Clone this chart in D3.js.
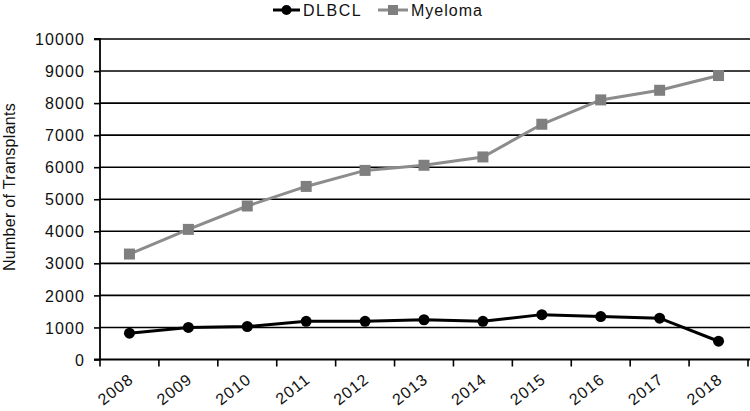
<!DOCTYPE html>
<html><head><meta charset="utf-8">
<script src="https://cdn.jsdelivr.net/npm/d3@7"></script>
<style>
html,body{margin:0;padding:0;background:#fff;}
svg{display:block;font-family:"Liberation Sans",Arial,sans-serif;}
</style></head>
<body>
<svg id="c" width="750" height="411"></svg>
<script>
const years = ["2008","2009","2010","2011","2012","2013","2014","2015","2016","2017","2018"];
const dlbcl = [820, 1000, 1030, 1190, 1190, 1240, 1190, 1400, 1340, 1290, 570];
const myeloma = [3290, 4060, 4790, 5400, 5900, 6060, 6320, 7340, 8100, 8400, 8860];
const yTicks = [0,1000,2000,3000,4000,5000,6000,7000,8000,9000,10000];
const seriesNames = ["DLBCL","Myeloma"];

const svg = d3.select("#c");
const L = 100, R = 748, T = 39, B = 359.5;
const x = d3.scaleBand().domain(years).range([L, R]).padding(0);
const y = d3.scaleLinear().domain([0, 10000]).range([B, T]);

// gridlines
svg.append("g").selectAll("line").data(yTicks.filter(d=>d>0)).join("line")
  .attr("x1", L).attr("x2", 750).attr("y1", d=>y(d)).attr("y2", d=>y(d))
  .attr("stroke", "#000").attr("stroke-width", 1.6);

// y axis
const ya = svg.append("g").attr("transform", `translate(${L},0)`)
  .call(d3.axisLeft(y).tickValues(yTicks).tickSize(6).tickPadding(9).tickFormat(d3.format("d")));
ya.select(".domain").attr("stroke","#000").attr("stroke-width",1.8).attr("d", `M-6,${T}H0V${B}`);
ya.selectAll(".tick line").attr("stroke","#000").attr("stroke-width",1.6);
ya.selectAll(".tick text").attr("font-size", 16).attr("fill","#111").attr("letter-spacing", 1.1).attr("dy","0.35em");

// x axis
const xa = svg.append("g").attr("transform", `translate(0,${B})`)
  .call(d3.axisBottom(x).tickSize(0).tickPadding(0));
xa.select(".domain").remove();
svg.append("g").selectAll("line").data(years.concat(["end"])).join("line")
  .attr("x1", (d,i)=> L + i*x.bandwidth()).attr("x2", (d,i)=> L + i*x.bandwidth())
  .attr("y1", B).attr("y2", B+7).attr("stroke","#000").attr("stroke-width",1.6);
svg.append("line").attr("x1", L-6).attr("x2", 750).attr("y1", B).attr("y2", B)
  .attr("stroke","#000").attr("stroke-width",1.8);
xa.selectAll(".tick text").attr("font-size", 16).attr("fill","#111").attr("letter-spacing", 1)
  .attr("text-anchor","end").attr("dy", 0)
  .attr("transform", "translate(5,22) rotate(-38)");

// y title
svg.append("text").attr("transform", "translate(15,187) rotate(-90)")
  .attr("text-anchor","middle").attr("font-size", 16).attr("letter-spacing", 0.3)
  .attr("fill","#111").text("Number of Transplants");

const cx = d => x(d) + x.bandwidth()/2;
const line = d3.line().x((d,i)=>cx(years[i])).y(d=>y(d));

// Myeloma
svg.append("path").datum(myeloma).attr("d", line).attr("fill","none")
  .attr("stroke","#8c8c8c").attr("stroke-width",3);
svg.append("g").selectAll("rect").data(myeloma).join("rect")
  .attr("x",(d,i)=>cx(years[i])-5.5).attr("y",d=>y(d)-5.5).attr("width",11).attr("height",11)
  .attr("fill","#7f7f7f");

// DLBCL
svg.append("path").datum(dlbcl).attr("d", line).attr("fill","none")
  .attr("stroke","#000").attr("stroke-width",3);
svg.append("g").selectAll("circle").data(dlbcl).join("circle")
  .attr("cx",(d,i)=>cx(years[i])).attr("cy",d=>y(d)).attr("r",5.5).attr("fill","#000");

// legend
const lg = svg.append("g");
lg.append("line").attr("x1",273).attr("x2",300).attr("y1",10).attr("y2",10).attr("stroke","#000").attr("stroke-width",3);
lg.append("circle").attr("cx",286.5).attr("cy",10).attr("r",5).attr("fill","#000");
lg.append("text").attr("x",303).attr("y",16).attr("font-size",16).attr("letter-spacing",1.5).attr("fill","#111").text(seriesNames[0]);
lg.append("line").attr("x1",378).attr("x2",408).attr("y1",10).attr("y2",10).attr("stroke","#8c8c8c").attr("stroke-width",3);
lg.append("rect").attr("x",388).attr("y",5).attr("width",10).attr("height",10).attr("fill","#7f7f7f");
lg.append("text").attr("x",411).attr("y",16).attr("font-size",16).attr("letter-spacing",1).attr("fill","#111").text(seriesNames[1]);
</script>
</body></html>
